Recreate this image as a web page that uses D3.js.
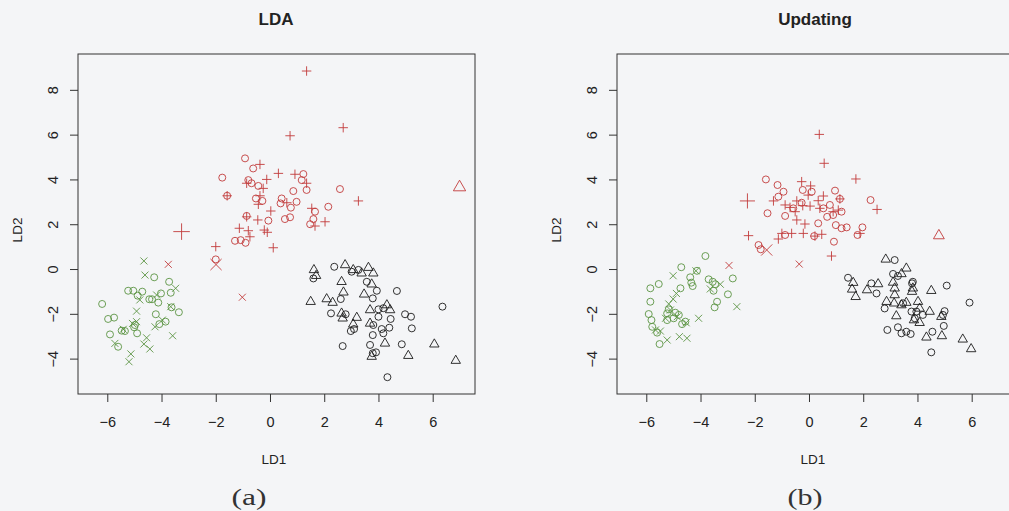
<!DOCTYPE html>
<html>
<head>
<meta charset="utf-8">
<script src="https://cdn.jsdelivr.net/npm/d3@7"></script>
<style>
  body { margin: 0; background: #f4f5f7; }
  svg { display: block; font-family: "Liberation Sans", Arial, sans-serif; }
</style>
</head>
<body>
<svg id="chart"></svg>
<script>
var svgWidth = 1009;
var svgHeight = 511;

// axis ticks and limits (same for both panels)
var xTicks = [-6, -4, -2, 0, 2, 4, 6];
var yTicks = [-4, -2, 0, 2, 4, 6, 8];
var xLimits = [-7.08, 7.56];
var yLimits = [-5.58, 9.6];

// ---------- panel (a): LDA ----------
var ldaRedCircle = [
  [-0.92, 4.94], [-0.62, 4.49], [-1.76, 4.08], [1.23, 4.24], [1.17, 3.97], [-0.80, 3.97],
  [-0.68, 3.83], [-0.43, 3.71], [1.35, 3.53], [0.86, 3.48], [2.58, 3.57], [-1.58, 3.27],
  [-0.52, 3.15], [-0.28, 3.04], [0.43, 3.15], [0.39, 2.93], [0.98, 3.00], [0.77, 2.74],
  [2.15, 2.78], [1.66, 2.56], [-0.86, 2.37], [-0.06, 2.16], [0.55, 2.23], [0.74, 2.31],
  [1.60, 2.23], [1.48, 2.00], [-1.29, 1.26], [-0.90, 1.17], [-1.08, 1.29], [-2.00, 0.43]
];
var ldaRedPlus = [
  [1.35, 8.84], [0.74, 5.95], [2.70, 6.31], [3.26, 3.04], [-0.37, 4.67], [0.31, 4.27],
  [0.92, 4.23], [-0.12, 4.00], [-0.86, 3.83], [1.35, 3.83], [-0.25, 3.60], [-1.58, 3.27],
  [-0.37, 3.27], [-0.43, 2.89], [0.62, 2.96], [0.03, 2.59], [1.54, 2.71], [-0.86, 2.33],
  [-0.45, 2.19], [2.03, 2.11], [1.66, 1.92], [-1.13, 1.82], [-0.80, 1.71], [-0.74, 1.44],
  [-0.21, 1.74], [-0.10, 1.64], [-2.00, 1.00], [0.12, 0.95]
];
var ldaRedCross = [[-3.75, 0.21], [-1.02, -1.26]];
var ldaRedBigPlus = [[-3.26, 1.67]];
var ldaRedBigCross = [[-1.99, 0.20]];
var ldaRedBigTriangle = [[6.99, 3.65]];

var ldaGreenCircle = [
  [-4.27, -0.37], [-3.72, -0.57], [-5.23, -0.97], [-5.04, -0.97], [-4.71, -1.01], [-4.88, -1.19],
  [-4.45, -1.35], [-4.35, -1.35], [-4.02, -1.09], [-3.66, -1.06], [-4.12, -1.50], [-6.19, -1.56],
  [-3.63, -1.71], [-3.36, -1.93], [-4.21, -2.02], [-5.97, -2.23], [-5.75, -2.17], [-3.85, -2.35],
  [-4.08, -2.46], [-4.98, -2.50], [-5.01, -2.60], [-5.35, -2.77], [-5.47, -2.75], [-4.90, -2.87],
  [-5.90, -2.92], [-5.60, -3.47]
];
var ldaGreenCross = [
  [-4.65, 0.36], [-4.61, -0.27], [-3.48, -0.86], [-4.80, -1.38], [-4.18, -1.16], [-3.66, -1.68],
  [-4.92, -1.88], [-3.97, -2.28], [-4.24, -2.58], [-4.92, -2.35], [-5.07, -2.43], [-5.41, -2.69],
  [-5.72, -3.32], [-4.55, -3.07], [-4.65, -3.35], [-4.43, -3.57], [-3.59, -2.98], [-5.13, -3.79],
  [-5.20, -4.14]
];

var ldaBlackTriangle = [
  [1.62, -0.04], [1.70, -0.30], [2.77, 0.18], [3.07, -0.04], [3.38, -0.19], [3.63, 0.06],
  [3.81, -0.19], [2.64, -0.57], [3.75, -0.68], [2.71, -1.04], [3.47, -1.13], [1.50, -1.46],
  [2.09, -1.34], [2.31, -1.50], [3.69, -1.83], [2.64, -1.98], [2.68, -2.20], [3.20, -2.17],
  [3.69, -2.43], [4.31, -1.61], [4.43, -1.83], [4.24, -3.32], [3.75, -3.91], [5.10, -3.87],
  [6.06, -3.36], [6.85, -4.09], [3.07, -2.47]
];
var ldaBlackCircle = [
  [2.37, 0.10], [1.60, -0.42], [3.01, -0.12], [3.26, -0.04], [3.57, -0.57], [3.94, -0.97],
  [4.68, -0.98], [3.79, -1.31], [2.61, -1.34], [6.36, -1.68], [2.25, -1.98], [2.79, -2.02],
  [4.00, -1.80], [4.18, -1.75], [4.00, -2.13], [4.45, -2.23], [4.98, -2.02], [5.20, -2.13],
  [5.23, -2.65], [2.98, -2.77], [3.10, -2.68], [3.81, -2.50], [3.79, -2.95], [4.18, -2.87],
  [4.40, -2.62], [4.12, -2.68], [2.68, -3.44], [3.69, -3.39], [3.91, -3.72], [4.86, -3.36],
  [4.33, -4.83], [3.79, -3.76]
];

// ---------- panel (b): Updating ----------
var updRedCircle = [
  [-1.59, 4.00], [-1.16, 3.75], [-0.94, 3.45], [-1.13, 3.23], [-0.23, 3.53], [0.10, 3.45],
  [0.96, 3.50], [1.14, 3.13], [2.27, 3.08], [-1.53, 2.49], [-0.88, 2.37], [-0.58, 2.71],
  [-0.27, 2.96], [0.77, 2.86], [0.53, 2.71], [0.67, 2.33], [0.89, 2.41], [1.20, 2.56],
  [0.34, 2.04], [0.99, 1.96], [1.20, 1.82], [1.39, 1.86], [1.97, 1.86], [1.79, 1.52],
  [-0.88, 1.52], [0.92, 1.22], [-1.86, 1.07], [-1.78, 0.88], [0.19, 1.47]
];
var updRedPlus = [
  [0.38, 6.01], [0.56, 4.72], [1.73, 4.02], [-0.27, 3.90], [0.06, 3.71], [-1.31, 3.04],
  [-0.45, 3.04], [-0.23, 2.83], [-0.70, 2.75], [-0.88, 2.86], [0.04, 2.81], [0.34, 3.05],
  [0.53, 3.26], [-0.03, 3.30], [-0.51, 2.56], [0.40, 2.71], [0.89, 2.56], [1.08, 2.63],
  [1.14, 3.13], [2.51, 2.66], [-0.45, 2.19], [-0.15, 2.01], [-1.00, 1.59], [-0.64, 1.59],
  [-0.21, 1.59], [0.22, 1.47], [0.47, 1.55], [-2.23, 1.49], [-1.13, 1.34], [1.88, 1.59],
  [0.83, 0.58]
];
var updRedCross = [[-2.95, 0.16], [-0.36, 0.22]];
var updRedBigPlus = [[-2.27, 3.04]];
var updRedBigCross = [[-1.56, 0.85]];
var updRedBigTriangle = [[4.79, 1.49]];

var updGreenCircle = [
  [-3.82, 0.58], [-4.71, 0.08], [-4.13, -0.08], [-4.38, -0.37], [-4.34, -0.61], [-4.29, -0.76],
  [-3.70, -0.46], [-3.55, -0.57], [-3.46, -0.68], [-2.81, -0.42], [-3.52, -0.97], [-2.99, -1.13],
  [-3.39, -1.46], [-3.48, -1.71], [-5.54, -0.67], [-5.85, -0.86], [-4.74, -0.86], [-5.85, -1.46],
  [-5.17, -1.80], [-5.23, -1.98], [-4.93, -1.95], [-4.80, -2.05], [-5.91, -2.01], [-5.81, -2.28],
  [-5.78, -2.58], [-4.56, -2.35], [-4.99, -2.20], [-4.68, -2.46], [-5.60, -2.84], [-5.51, -3.35],
  [-5.23, -2.28]
];
var updGreenCross = [
  [-5.01, -0.30], [-4.17, -0.08], [-3.27, -0.68], [-3.64, -0.89], [-4.89, -1.09], [-5.01, -1.34],
  [-5.17, -1.56], [-5.11, -1.83], [-5.29, -2.20], [-4.86, -2.13], [-4.53, -2.40], [-4.07, -2.20],
  [-5.48, -2.77], [-5.66, -2.72], [-5.23, -3.17], [-4.78, -3.02], [-4.50, -3.09], [-2.66, -1.68]
];

var updBlackTriangle = [
  [2.83, 0.43], [3.59, 0.03], [3.41, -0.22], [1.63, -0.61], [1.59, -0.91], [1.72, -1.24],
  [2.14, -0.94], [2.55, -0.67], [3.10, -0.60], [3.16, -0.86], [3.16, -1.16], [3.83, -0.86],
  [3.80, -1.01], [4.51, -0.97], [2.86, -1.46], [3.14, -1.53], [3.41, -1.61], [3.59, -1.50],
  [4.02, -1.46], [4.08, -1.76], [3.22, -2.10], [3.87, -2.28], [4.08, -2.40], [4.45, -1.90],
  [4.88, -2.13], [4.33, -3.05], [4.90, -2.99], [5.67, -3.14], [5.98, -3.57]
];
var updBlackCircle = [
  [3.16, 0.40], [1.44, -0.39], [2.30, -0.64], [2.49, -1.09], [3.10, -0.22], [3.28, -0.31],
  [3.83, -0.57], [5.08, -0.74], [5.92, -1.50], [2.79, -1.76], [3.47, -1.53], [3.78, -1.90],
  [4.20, -2.05], [5.00, -1.88], [4.94, -2.05], [4.97, -2.54], [3.96, -1.90], [3.90, -2.20],
  [2.89, -2.72], [3.28, -2.60], [3.41, -2.87], [3.59, -2.80], [3.75, -2.90], [4.55, -2.80],
  [4.51, -3.72], [3.80, -0.64]
];

// colours of the three groups
var red = "#c23b3b";
var green = "#5b9443";
var black = "#1c1c1c";

var panels = [
  {
    title: "LDA", caption: "(a)", left: 78, captionX: 249,
    series: [
      { data: ldaGreenCircle, shape: "circle", color: green, cex: 1 },
      { data: ldaGreenCross, shape: "cross", color: green, cex: 1 },
      { data: ldaBlackCircle, shape: "circle", color: black, cex: 1 },
      { data: ldaBlackTriangle, shape: "triangle", color: black, cex: 1 },
      { data: ldaRedCircle, shape: "circle", color: red, cex: 1 },
      { data: ldaRedPlus, shape: "plus", color: red, cex: 1 },
      { data: ldaRedCross, shape: "cross", color: red, cex: 1 },
      { data: ldaRedBigPlus, shape: "plus", color: red, cex: 1.75 },
      { data: ldaRedBigCross, shape: "cross", color: red, cex: 1.6 },
      { data: ldaRedBigTriangle, shape: "triangle", color: red, cex: 1.3 }
    ]
  },
  {
    title: "Updating", caption: "(b)", left: 617, captionX: 805,
    series: [
      { data: updGreenCircle, shape: "circle", color: green, cex: 1 },
      { data: updGreenCross, shape: "cross", color: green, cex: 1 },
      { data: updBlackCircle, shape: "circle", color: black, cex: 1 },
      { data: updBlackTriangle, shape: "triangle", color: black, cex: 1 },
      { data: updRedCircle, shape: "circle", color: red, cex: 1 },
      { data: updRedPlus, shape: "plus", color: red, cex: 1 },
      { data: updRedCross, shape: "cross", color: red, cex: 1 },
      { data: updRedBigPlus, shape: "plus", color: red, cex: 1.6 },
      { data: updRedBigCross, shape: "cross", color: red, cex: 1.6 },
      { data: updRedBigTriangle, shape: "triangle", color: red, cex: 1.15 }
    ]
  }
];

var plotWidth = 397;
var plotTop = 54;
var plotBottom = 394;

var svg = d3.select("#chart")
  .attr("width", svgWidth)
  .attr("height", svgHeight);

// open R-style plotting symbols (pch 1, 2, 3, 4)
function symbolPath(shape, cex) {
  var r = 3.5 * cex;
  if (shape === "circle") {
    return `M${r},0A${r},${r} 0 1,1 ${-r},0A${r},${r} 0 1,1 ${r},0Z`;
  }
  if (shape === "triangle") {
    var t = 1.555 * r, xc = 1.347 * r, yc = 0.778 * r;
    return `M0,${-t}L${xc},${yc}L${-xc},${yc}Z`;
  }
  if (shape === "plus") {
    var p = 1.35 * r;
    return `M${-p},0H${p}M0,${-p}V${p}`;
  }
  // cross
  return `M${-r},${-r}L${r},${r}M${-r},${r}L${r},${-r}`;
}

panels.forEach(function(panel) {
  var x = d3.scaleLinear().domain(xLimits).range([panel.left, panel.left + plotWidth]);
  var y = d3.scaleLinear().domain(yLimits).range([plotBottom, plotTop]);

  var g = svg.append("g");

  // x axis
  var xAxis = g.append("g")
    .attr("transform", `translate(0, ${plotBottom})`)
    .call(d3.axisBottom(x).tickValues(xTicks).tickSize(8).tickPadding(15));
  xAxis.select(".domain").remove();
  xAxis.selectAll("line").attr("stroke", "#333");
  xAxis.selectAll("text")
    .attr("font-size", 14.5)
    .attr("font-family", "Liberation Sans, Arial, sans-serif")
    .attr("fill", "#222");

  // y axis, labels turned like R does
  var yAxis = g.append("g")
    .attr("transform", `translate(${panel.left}, 0)`)
    .call(d3.axisLeft(y).tickValues(yTicks).tickSize(8));
  yAxis.select(".domain").remove();
  yAxis.selectAll("line").attr("stroke", "#333");
  yAxis.selectAll("text")
    .attr("x", 0)
    .attr("dy", null)
    .attr("transform", "translate(-25,0) rotate(-90)")
    .attr("text-anchor", "middle")
    .attr("dominant-baseline", "central")
    .attr("font-size", 14.5)
    .attr("font-family", "Liberation Sans, Arial, sans-serif")
    .attr("fill", "#222");

  // plot box
  g.append("rect")
    .attr("x", panel.left)
    .attr("y", plotTop)
    .attr("width", plotWidth)
    .attr("height", plotBottom - plotTop)
    .attr("fill", "none")
    .attr("stroke", "#333")
    .attr("stroke-width", 1);

  // points
  panel.series.forEach(function(s) {
    g.append("g").selectAll("path")
      .data(s.data)
      .enter()
      .append("path")
      .attr("transform", d => `translate(${x(d[0])}, ${y(d[1])})`)
      .attr("d", symbolPath(s.shape, s.cex))
      .attr("fill", "none")
      .attr("stroke", s.color)
      .attr("stroke-width", 0.9);
  });

  // titles and labels
  g.append("text")
    .attr("x", x(0) + 6)
    .attr("y", 25)
    .attr("text-anchor", "middle")
    .attr("font-size", 17)
    .attr("font-weight", "bold")
    .attr("fill", "#222")
    .text(panel.title);

  g.append("text")
    .attr("x", x(0) + 4)
    .attr("y", 464)
    .attr("text-anchor", "middle")
    .attr("font-size", 13.5)
    .attr("fill", "#222")
    .text("LD1");

  g.append("text")
    .attr("transform", `translate(${panel.left - 56}, ${(plotTop + plotBottom) / 2 + 6}) rotate(-90)`)
    .attr("text-anchor", "middle")
    .attr("font-size", 13.5)
    .attr("fill", "#222")
    .text("LD2");

  g.append("text")
    .attr("x", panel.captionX)
    .attr("y", 505)
    .attr("text-anchor", "middle")
    .attr("font-family", "Liberation Serif, serif")
    .attr("font-size", 24)
    .attr("fill", "#333")
    .attr("textLength", 35)
    .attr("lengthAdjust", "spacingAndGlyphs")
    .text(panel.caption);
});
</script>
</body>
</html>
